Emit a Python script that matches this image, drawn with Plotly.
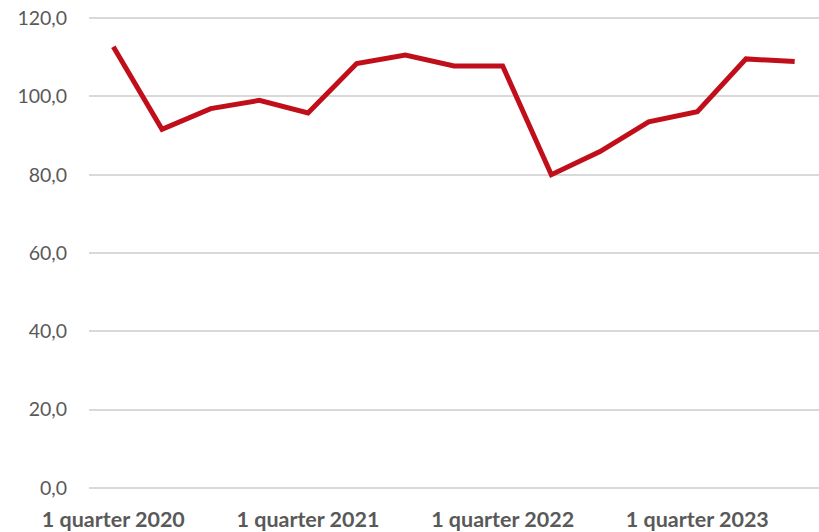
import plotly.graph_objects as go

quarters = [f"{q} quarter {y}" for y in (2020, 2021, 2022, 2023) for q in (1, 2, 3, 4)][:15]
values = [112.7, 91.6, 96.9, 99.0, 95.8, 108.4, 110.6, 107.8, 107.8, 80.0,
          85.9, 93.5, 96.1, 109.6, 108.9]
x_tick_labels = ["1 quarter 2020", "1 quarter 2021", "1 quarter 2022", "1 quarter 2023"]
y_ticks = [0, 20, 40, 60, 80, 100, 120]

fig = go.Figure()
fig.add_trace(go.Scatter(
    x=quarters, y=values, mode="lines",
    line=dict(color="#C00F1A", width=5),
    hoverinfo="x+y",
))

fig.update_layout(
    width=819, height=532,
    margin=dict(l=89, r=0, t=17, b=43),
    paper_bgcolor="white", plot_bgcolor="white",
    showlegend=False,
    separators=",.",
    font=dict(family="Lato, Open Sans, sans-serif", color="#595959", size=20),
)
fig.update_xaxes(
    type="category",
    range=[-0.5, 14.5],
    tickvals=x_tick_labels,
    ticktext=x_tick_labels,
    tickfont=dict(family="Lato, Open Sans, sans-serif", size=21.5, color="#595959", weight="bold"),
    showgrid=False, zeroline=False, showline=False,
    ticks="outside", ticklen=11, tickcolor="rgba(0,0,0,0)",
)
fig.update_yaxes(
    range=[-0.3, 120.3],
    tickvals=y_ticks,
    tickformat=".1f",
    tickfont=dict(family="Lato, Open Sans, sans-serif", size=19.5, color="#595959"),
    showgrid=True, gridcolor="#D9D9D9", gridwidth=1.5,
    zeroline=False, showline=False,
    ticks="outside", ticklen=17, tickcolor="rgba(0,0,0,0)",
)

fig.write_html("out.html", config={"displayModeBar": False},
               post_script="document.body.style.margin='0';")
